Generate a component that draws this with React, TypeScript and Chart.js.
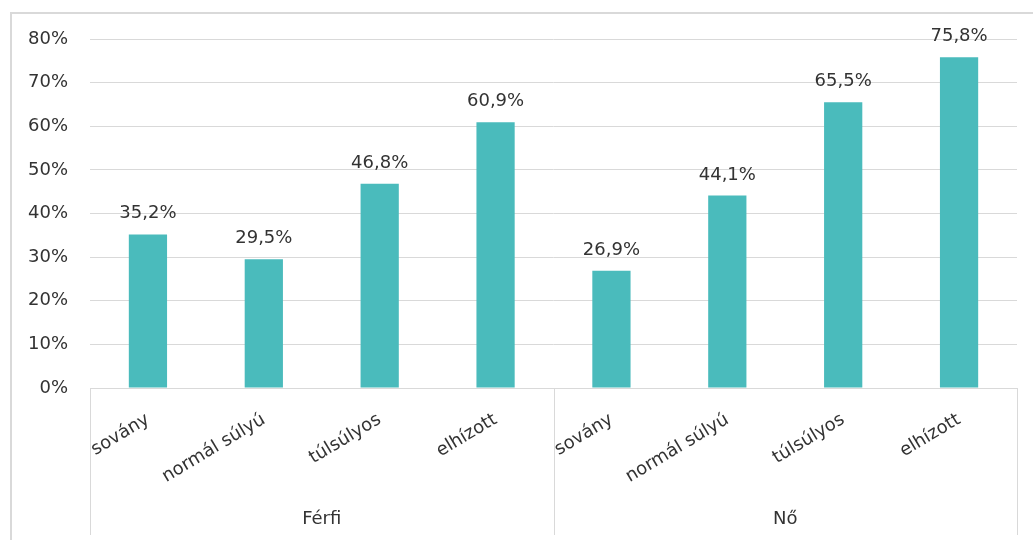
import React, { useEffect, useRef } from "react";
import { Chart, registerables } from "chart.js";

Chart.register(...registerables);

// Weight categories, repeated for each gender group
const categories = [
  "sovány",
  "normál súlyú",
  "túlsúlyos",
  "elhízott",
  "sovány",
  "normál súlyú",
  "túlsúlyos",
  "elhízott",
];
const groups = ["Férfi", "Nő"];
const groupSize = 4;
const values = [35.2, 29.5, 46.8, 60.9, 26.9, 44.1, 65.5, 75.8];
const yTicksMax = 80;
const yTicksStep = 10;

const FONT = "'DejaVu Sans', sans-serif";
const FONT_SIZE = 18;
const TEXT = "#333333";
const LINE = "#D9D9D9";
const BAR = "#4ABBBC";

const fmt = (v: number) => v.toFixed(1).replace(".", ",") + "%";

// Outer frame of the chart (only top and left edges fall inside the canvas)
const framePlugin = {
  id: "frame",
  beforeDraw(chart: any) {
    const ctx = chart.ctx;
    ctx.save();
    ctx.fillStyle = "#ffffff";
    ctx.fillRect(0, 0, chart.width, chart.height);
    ctx.strokeStyle = LINE;
    ctx.lineWidth = 2;
    ctx.beginPath();
    ctx.moveTo(11, chart.height + 5);
    ctx.lineTo(11, 13);
    ctx.lineTo(chart.width + 5, 13);
    ctx.stroke();
    ctx.restore();
  },
};

// Value labels above each bar
const valueLabelPlugin = {
  id: "valueLabels",
  afterDatasetsDraw(chart: any) {
    const ctx = chart.ctx;
    const meta = chart.getDatasetMeta(0);
    ctx.save();
    ctx.font = `${FONT_SIZE}px ${FONT}`;
    ctx.fillStyle = TEXT;
    ctx.textAlign = "center";
    ctx.textBaseline = "alphabetic";
    meta.data.forEach((bar: any, i: number) => {
      ctx.fillText(fmt(values[i]), bar.x, bar.y - 16);
    });
    ctx.restore();
  },
};

// Second level of the category axis: group separators and group names
const groupAxisPlugin = {
  id: "groupAxis",
  afterDraw(chart: any) {
    const ctx = chart.ctx;
    const x = chart.scales.x;
    const top = x.top;
    const bottom = 535;
    const bounds: number[] = [x.left];
    for (let g = 1; g < groups.length; g++) {
      const a = x.getPixelForValue(g * groupSize - 1);
      const b = x.getPixelForValue(g * groupSize);
      bounds.push((a + b) / 2);
    }
    bounds.push(x.right);
    ctx.save();
    ctx.strokeStyle = LINE;
    ctx.lineWidth = 1;
    bounds.forEach((bx) => {
      const px = Math.round(bx) + 0.5;
      ctx.beginPath();
      ctx.moveTo(px, top);
      ctx.lineTo(px, bottom);
      ctx.stroke();
    });
    ctx.font = `${FONT_SIZE}px ${FONT}`;
    ctx.fillStyle = TEXT;
    ctx.textAlign = "center";
    ctx.textBaseline = "middle";
    groups.forEach((name, g) => {
      ctx.fillText(name, (bounds[g] + bounds[g + 1]) / 2, 519);
    });
    ctx.restore();
  },
};

export default function App() {
  const canvasRef = useRef<HTMLCanvasElement | null>(null);

  useEffect(() => {
    if (!canvasRef.current) return;
    const chart = new Chart(canvasRef.current, {
      type: "bar",
      data: {
        labels: categories,
        datasets: [
          {
            data: values,
            backgroundColor: BAR,
            borderWidth: 0,
            categoryPercentage: 1,
            barPercentage: 0.33,
          },
        ],
      },
      options: {
        responsive: false,
        animation: false,
        devicePixelRatio: 1,
        layout: { padding: { left: 0, top: 39, right: 16, bottom: 0 } },
        plugins: {
          legend: { display: false },
          tooltip: { enabled: false },
        },
        scales: {
          x: {
            grid: { display: false, drawTicks: false },
            border: { display: true, color: LINE, width: 1 },
            ticks: {
              autoSkip: false,
              minRotation: 31,
              maxRotation: 31,
              padding: 21,
              color: TEXT,
              font: { family: FONT, size: FONT_SIZE },
            },
            afterFit: (scale: any) => {
              scale.height = 152;
            },
          },
          y: {
            min: 0,
            max: yTicksMax,
            grid: { color: LINE, drawTicks: false },
            border: { display: false },
            ticks: {
              stepSize: yTicksStep,
              padding: 22,
              color: TEXT,
              font: { family: FONT, size: FONT_SIZE },
              callback: (v: any) => `${v}%`,
            },
            afterFit: (scale: any) => {
              scale.width = 90;
            },
          },
        },
      },
      plugins: [framePlugin, valueLabelPlugin, groupAxisPlugin],
    });
    return () => chart.destroy();
  }, []);

  return (
    <div style={{ position: "absolute", left: 0, top: 0, width: 1033, height: 540 }}>
      <canvas ref={canvasRef} width={1033} height={540} />
    </div>
  );
}
